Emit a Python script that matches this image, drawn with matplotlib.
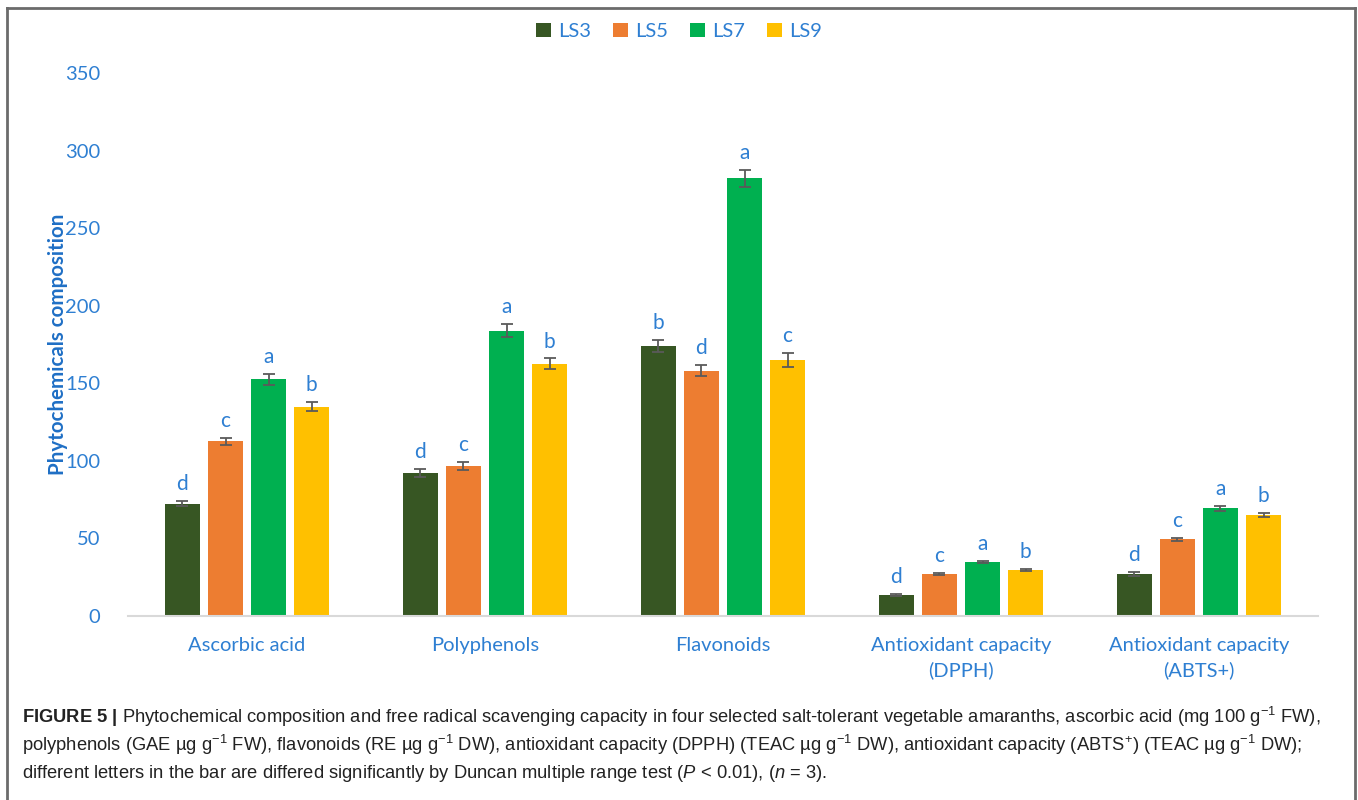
import matplotlib
matplotlib.use("Agg")
import matplotlib.pyplot as plt
from matplotlib import font_manager
from matplotlib.lines import Line2D
import numpy as np

# data
categories = ["Ascorbic acid", "Polyphenols", "Flavonoids",
              "Antioxidant capacity\n(DPPH)", "Antioxidant capacity\n(ABTS+)"]
series = ["LS3", "LS5", "LS7", "LS9"]
ls3 = [72.5, 92, 174, 13.5, 27]
ls5 = [112.5, 96.5, 158, 27, 49.5]
ls7 = [152.5, 184, 282, 35, 69.5]
ls9 = [135, 162.5, 165, 29.5, 65]
ls3_err = [1.5, 2.5, 4, 0.4, 1.5]
ls5_err = [2.5, 2.5, 3.5, 0.6, 1]
ls7_err = [3.5, 4, 5.5, 0.7, 1.5]
ls9_err = [3, 3.5, 4.5, 0.7, 1.5]
ls3_letters = ["d", "d", "b", "d", "d"]
ls5_letters = ["c", "c", "d", "c", "c"]
ls7_letters = ["a", "a", "a", "a", "a"]
ls9_letters = ["b", "b", "c", "b", "b"]

colors = ["#375623", "#ED7D31", "#00B050", "#FFC000"]
blue = "#2E7FD2"

installed = {f.name for f in font_manager.fontManager.ttflist}
cap_font = "Liberation Sans Narrow" if "Liberation Sans Narrow" in installed else "Liberation Sans"
cap_size = 15.5 if cap_font == "Liberation Sans Narrow" else 13.2

plt.rcParams["font.family"] = ["Lato", "DejaVu Sans"]
plt.rcParams["mathtext.fontset"] = "custom"
plt.rcParams["mathtext.rm"] = cap_font
plt.rcParams["mathtext.it"] = cap_font + ":italic"
plt.rcParams["mathtext.bf"] = cap_font + ":bold"

fig = plt.figure(figsize=(13.58, 8.0), dpi=100)
ax = fig.add_axes([0.0943, 0.23, 0.8762, 0.67875])

x = np.arange(len(categories))
width = 0.148
pitch = 0.181
values = [ls3, ls5, ls7, ls9]
errors = [ls3_err, ls5_err, ls7_err, ls9_err]
letters = [ls3_letters, ls5_letters, ls7_letters, ls9_letters]

for i, (vals, errs, lets) in enumerate(zip(values, errors, letters)):
    pos = x + (i - 1.5) * pitch
    ax.bar(pos, vals, width, color=colors[i], label=series[i], zorder=2)
    ax.errorbar(pos, vals, yerr=errs, fmt="none", ecolor="#5a5a5a",
                elinewidth=1.3, capsize=4, capthick=1.3, zorder=3)
    for px, v, e, t in zip(pos, vals, errs, lets):
        ax.annotate(t, (px, v + e), xytext=(0, 5), textcoords="offset points",
                    ha="center", va="bottom", fontsize=15, color=blue)

ax.set_xlim(-0.5, 4.5)
ax.set_ylim(0, 350)
ax.set_yticks(range(0, 351, 50))
ax.set_xticks(x)
ax.set_xticklabels(categories, fontsize=14.5, color=blue, linespacing=1.5)
ax.tick_params(axis="y", length=0, pad=20, labelsize=14.5, labelcolor=blue)
ax.tick_params(axis="x", length=0, pad=15)
for s in ["top", "right", "left"]:
    ax.spines[s].set_visible(False)
ax.spines["bottom"].set_color("#d9d9d9")
ax.spines["bottom"].set_linewidth(1.5)

fig.text(0.0425, 0.569, "Phytochemicals composition", rotation=90,
         ha="center", va="center", fontsize=14.8, fontweight="bold", color="#1F6FC5")

fig.legend(loc="center", bbox_to_anchor=(0.5, 0.961), ncol=4, frameon=False,
           fontsize=14.5, handlelength=0.75, handleheight=0.75, handletextpad=0.35,
           columnspacing=1.1, labelcolor=blue)

# border around the figure panel
border = dict(color="#6b6b6b", lw=2, transform=fig.transFigure)
fig.add_artist(Line2D([0.0055, 0.0055], [0.0, 0.99], **border))
fig.add_artist(Line2D([0.9975, 0.9975], [0.0, 0.99], **border))
fig.add_artist(Line2D([0.0055, 0.9975], [0.99, 0.99], **border))

caption = [
    r"$\mathbf{FIGURE\ 5\ |}$ Phytochemical composition and free radical scavenging capacity in four selected "
    r"salt-tolerant vegetable amaranths, ascorbic acid (mg 100 g$^{-1}$ FW),",
    r"polyphenols (GAE µg g$^{-1}$ FW), flavonoids (RE µg g$^{-1}$ DW), antioxidant capacity (DPPH) "
    r"(TEAC µg g$^{-1}$ DW), antioxidant capacity (ABTS$^{+}$) (TEAC µg g$^{-1}$ DW);",
    r"different letters in the bar are differed significantly by Duncan multiple range test "
    r"($P$ < 0.01), ($n$ = 3).",
]
for k, line in enumerate(caption):
    fig.text(0.0165, 1 - (717 + 28 * k) / 800, line, ha="left", va="center",
             fontsize=cap_size, family=cap_font, color="#222222")

fig.savefig("out.png", dpi=100)
